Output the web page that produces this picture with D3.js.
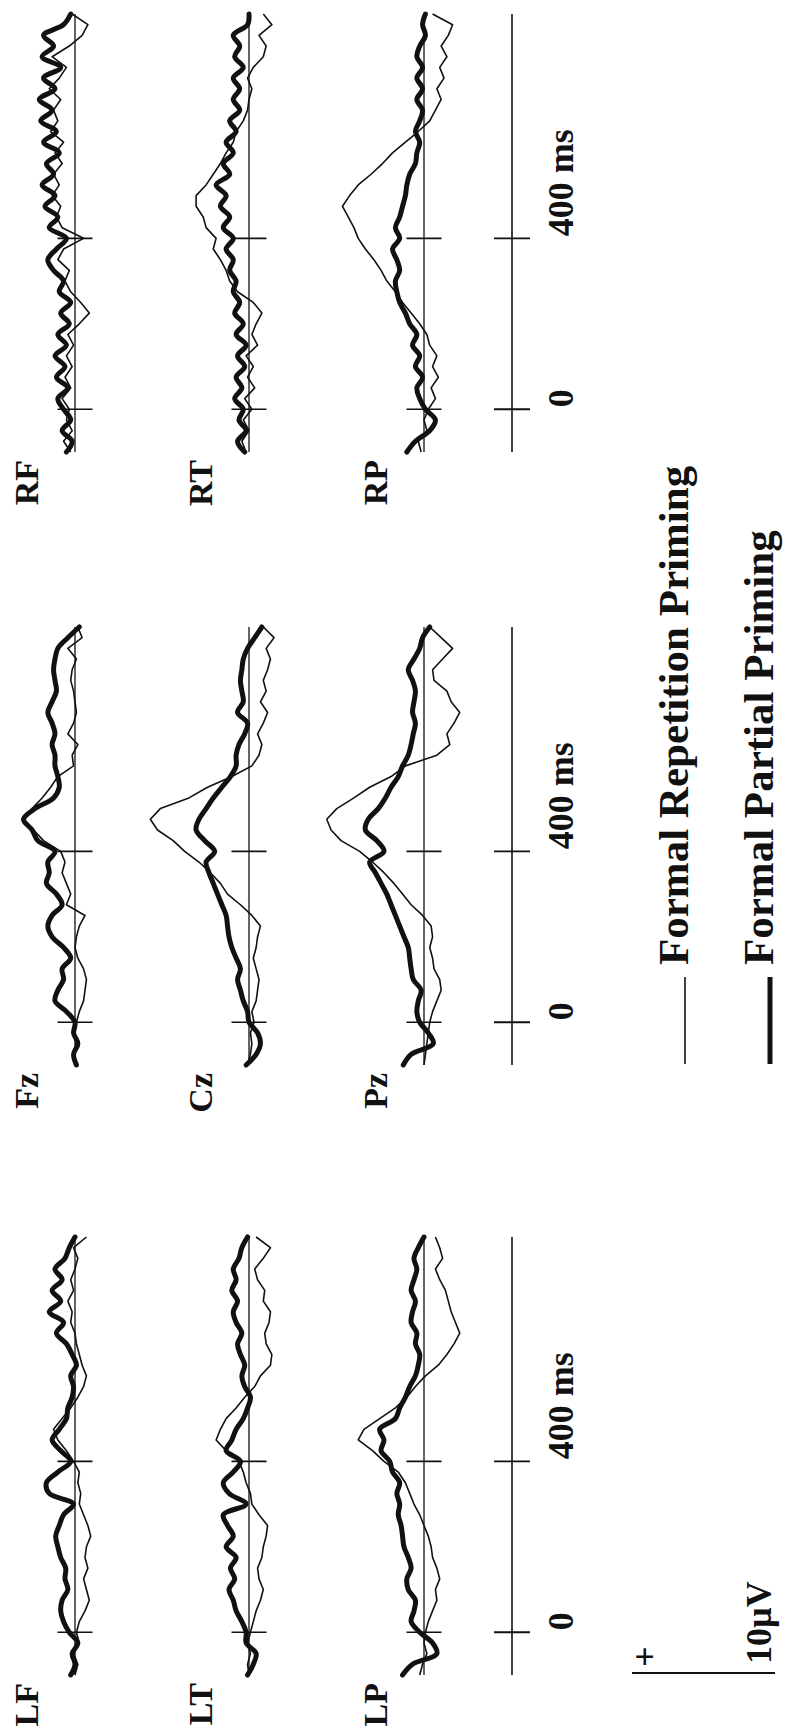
<!DOCTYPE html>
<html>
<head>
<meta charset="utf-8">
<script src="https://cdn.jsdelivr.net/npm/d3@7/dist/d3.min.js"></script>
<style>
  body { margin: 0; background: #fff; }
  text { font-family: "Liberation Serif", "Times New Roman", serif; font-weight: bold; fill: #111; }
</style>
</head>
<body>
<script>
// sample times (ms), one value every 25 ms
var times = [-100, -75, -50, -25, 0, 25, 50, 75, 100, 125, 150, 175, 200, 225, 250, 275, 300, 325, 350, 375,
  400, 425, 450, 475, 500, 525, 550, 575, 600, 625, 650, 675, 700, 725, 750, 775, 800, 825, 850, 875, 900, 925];

// electrode layout: columns (left, midline, right) x rows (frontal, temporal/central, parietal)
var electrodes = [["LF", "LT", "LP"], ["Fz", "Cz", "Pz"], ["RF", "RT", "RP"]];

// amplitudes in microvolts, positive up
var lfRep  = [0.0,-0.2,0.1,-0.3,-0.1,-0.3,-0.7,-1.0,-0.8,-0.6,-0.9,-0.7,-0.8,-1.1,-0.9,-0.6,-0.3,-0.4,-0.2,-0.3,0.1,0.6,1.2,1.5,0.9,0.3,-0.2,-0.6,-0.8,-0.5,-0.3,-0.1,0.0,0.3,0.2,0.5,0.1,0.3,0.0,-0.2,0.1,-0.8];
var lfPart = [0.3,0.0,0.2,-0.2,0.4,0.8,1.0,0.9,0.5,0.7,0.65,1.0,1.2,1.35,1.1,0.8,0.1,1.8,2.0,1.2,0.3,1.0,1.6,1.1,0.6,0.5,0.2,0.1,0.3,-0.1,0.2,0.6,1.3,0.8,1.8,1.0,1.6,0.9,1.4,0.7,0.4,0.0];
var ltRep  = [0.0,0.1,-0.1,0.1,-0.1,-0.3,-0.5,-0.8,-1.0,-0.7,-0.6,-0.9,-1.0,-1.2,-1.3,-0.7,-0.2,-0.1,0.2,0.4,0.7,1.6,2.3,2.0,1.6,0.9,0.3,-0.4,-0.8,-1.5,-1.6,-1.2,-1.1,-1.4,-1.5,-1.0,-1.1,-0.6,-0.4,-1.0,-1.5,-0.5];
var ltPart = [0.1,-0.3,-0.5,0.2,0.2,0.5,0.9,1.1,1.4,1.0,1.3,0.9,1.6,1.1,1.5,1.8,0.2,1.4,1.8,1.1,0.6,1.6,1.2,0.9,0.4,0.1,-0.1,0.3,0.5,0.3,0.6,0.8,0.5,0.9,1.1,0.8,1.2,0.9,1.1,0.7,0.5,0.1];
var lpRep  = [0.3,0.1,-0.2,0.0,-0.1,-0.3,-0.6,-0.9,-0.8,-1.1,-0.9,-0.6,-0.5,-0.3,0.0,0.3,0.7,1.0,1.3,1.8,2.8,3.6,4.6,4.2,3.1,2.0,1.2,0.6,-0.1,-1.0,-1.6,-2.1,-2.5,-2.2,-1.9,-1.7,-1.5,-1.1,-0.8,-1.3,-1.1,-0.8];
var lpPart = [1.5,0.8,-0.9,-0.6,0.3,0.9,0.7,0.6,1.1,1.2,0.9,1.1,1.4,1.5,1.6,1.8,1.7,1.9,1.7,2.2,2.4,3.0,2.8,3.1,2.0,1.7,1.3,1.0,0.6,0.4,0.3,0.6,0.5,0.9,0.8,0.6,0.9,0.7,0.5,0.7,0.4,0.0];

var fzRep  = [0.0,0.1,-0.1,0.0,-0.1,-0.3,-0.6,-0.7,-0.8,-0.6,-0.2,0.0,-0.1,-0.3,-0.7,0.6,0.3,0.6,0.9,0.7,1.0,2.2,2.9,3.7,3.0,2.3,1.7,1.2,0.1,0.2,-0.2,0.5,0.1,-0.1,0.0,0.1,0.3,0.2,-0.1,0.5,-0.5,-0.2];
var fzPart = [-0.1,0.1,-0.2,0.1,0.0,0.6,1.4,1.2,0.8,0.9,0.3,0.8,1.6,1.9,1.6,0.9,1.3,2.0,1.8,1.9,1.4,2.6,3.0,3.6,2.8,1.5,1.1,1.2,1.4,1.4,1.6,1.4,1.6,1.9,1.6,1.3,1.4,1.5,1.4,1.2,0.5,-0.3];
var czRep  = [0.1,-0.1,-0.2,-0.1,-0.35,-0.2,-0.5,-0.6,-0.7,-0.5,-0.3,-0.5,-0.6,-0.8,-0.2,0.6,1.5,2.0,2.7,3.5,4.5,5.3,6.4,6.9,6.2,4.2,2.9,1.2,-0.2,-0.7,-0.9,-0.6,-1.0,-1.3,-0.8,-1.2,-1.0,-1.3,-1.5,-1.2,-1.75,-1.0];
var czPart = [0.2,-0.5,-0.8,-0.6,0.0,0.1,0.4,0.6,0.8,0.6,0.9,1.2,1.4,1.5,1.6,1.9,2.2,2.5,2.8,3.0,2.4,3.1,3.7,3.5,3.0,2.5,1.9,1.3,0.9,0.9,0.7,0.3,0.1,0.8,0.4,0.5,0.6,0.5,0.4,0.1,-0.4,-0.9];
var pzRep  = [0.0,-0.1,-0.2,-0.3,-0.4,-0.6,-0.9,-1.2,-1.1,-0.7,-0.6,-0.4,-0.6,-0.5,0.1,0.9,1.5,2.1,2.8,3.6,4.5,5.8,6.5,6.8,6.1,4.9,3.8,2.3,1.3,-0.9,-1.8,-1.6,-2.1,-2.5,-1.9,-1.6,-0.7,-0.6,-1.3,-2.0,-1.2,-0.4];
var pzPart = [1.45,0.9,-0.65,-0.3,0.3,0.5,0.4,0.2,0.75,0.9,1.0,1.1,1.4,1.7,2.0,2.3,2.6,3.0,3.4,3.8,2.8,3.3,4.1,3.9,3.2,2.7,2.3,1.8,1.5,1.1,0.9,0.75,0.6,0.8,0.7,0.6,0.8,1.1,0.7,0.3,0.1,-0.4];

var rfRep  = [0.3,0.8,0.2,0.6,0.4,0.9,0.3,0.7,0.2,0.6,0.1,0.5,-0.3,-1.0,-0.4,0.3,0.7,0.4,1.2,0.8,-0.6,0.9,1.3,1.0,1.6,1.1,1.5,0.9,1.4,0.8,1.7,1.2,1.5,1.0,1.8,1.1,0.6,1.6,0.4,-0.5,-0.9,0.2];
var rfPart = [0.6,0.2,0.9,0.3,0.8,1.2,0.5,1.3,0.7,1.4,0.6,1.2,0.4,1.0,0.3,1.1,0.8,1.5,1.9,1.3,0.6,1.8,1.2,2.1,1.4,2.3,1.5,2.0,1.1,2.2,1.3,2.4,1.6,2.5,1.4,2.2,1.0,2.3,1.5,2.2,0.8,0.3];
var rtRep  = [0.2,0.5,0.0,0.4,-0.2,0.3,-0.4,0.1,-0.3,0.2,-0.6,-0.2,-0.5,-0.9,-0.3,0.8,1.35,1.6,2.0,2.5,2.3,3.0,3.2,3.7,3.7,3.0,2.5,2.0,1.6,1.1,0.9,0.4,0.1,0.0,-0.2,0.1,-0.3,-1.0,-1.2,-0.7,-1.6,-1.0];
var rtPart = [0.3,0.8,0.2,0.7,0.4,1.0,0.5,0.9,0.3,0.8,0.2,0.9,0.4,1.0,0.65,1.1,0.9,1.35,1.1,1.6,1.1,1.8,1.35,2.0,1.6,2.3,1.35,1.8,1.1,1.6,0.9,1.35,0.65,1.1,0.65,1.1,0.4,1.0,0.65,1.1,0.1,0.0];
var rpRep  = [0.2,0.4,-0.2,0.0,-0.3,-0.8,-0.5,-1.0,-0.6,-0.9,-0.4,-0.2,0.3,0.9,1.5,2.0,2.6,3.0,3.5,4.1,4.6,4.9,5.3,5.7,5.2,4.6,3.7,2.9,2.2,1.3,0.4,-0.4,-0.8,-1.2,-0.9,-1.4,-1.1,-1.6,-1.2,-1.7,-2.0,-0.6];
var rpPart = [1.2,0.6,-0.4,-0.8,-0.1,0.3,0.5,0.1,0.6,0.3,0.8,0.5,1.0,1.3,1.7,1.9,2.0,1.7,1.9,2.2,1.7,2.0,1.7,1.5,1.3,1.2,1.0,0.6,0.5,0.3,0.6,0.3,0.1,0.5,0.1,0.5,0.1,0.5,0.3,-0.1,0.1,-0.1];

var tickTimes = [0, 400];
var tickLabels = ["0", "400 ms"];
var legendLabels = ["Formal Repetition Priming", "Formal Partial Priming"];
var scaleLabels = ["+", "10\u00B5V"];
var scaleMicroVolts = 10;

var repetition = { LF: lfRep, LT: ltRep, LP: lpRep, Fz: fzRep, Cz: czRep, Pz: pzRep, RF: rfRep, RT: rtRep, RP: rpRep };
var partial = { LF: lfPart, LT: ltPart, LP: lpPart, Fz: fzPart, Cz: czPart, Pz: pzPart, RF: rfPart, RT: rtPart, RP: rpPart };

// the figure is drawn landscape and then turned a quarter turn anticlockwise
var svgWidth = 785;
var svgHeight = 1730;

var colStart = [55, 665, 1278];
var rowBase = [75, 249, 424];
var axisY = 512;

var x = d3.scaleLinear().domain([-100, 925]).range([0, 438]);
var y = d3.scaleLinear().domain([-10, 10]).range([143, -143]);

var svg = d3.select("body")
  .append("svg")
  .attr("width", svgWidth)
  .attr("height", svgHeight);

var fig = svg.append("g")
  .attr("transform", `translate(0, ${svgHeight}) rotate(-90)`);

var thinLine = d3.line()
  .x(function(d, i) { return x(times[i]); })
  .y(function(d) { return y(d); });

var thickLine = d3.line()
  .x(function(d, i) { return x(times[i]); })
  .y(function(d) { return y(d); })
  .curve(d3.curveCatmullRom.alpha(0.5));

electrodes.forEach(function(column, c) {
  var colGroup = fig.append("g")
    .attr("transform", `translate(${colStart[c]}, 0)`);

  column.forEach(function(name, r) {
    var ch = colGroup.append("g")
      .attr("transform", `translate(0, ${rowBase[r]})`);

    ch.append("line")
      .attr("x1", x(-100)).attr("x2", x(925))
      .attr("y1", 0).attr("y2", 0)
      .attr("stroke", "#111").attr("stroke-width", 1.3);

    ch.selectAll(".tick")
      .data(tickTimes)
      .enter().append("line")
      .attr("x1", function(d) { return x(d); })
      .attr("x2", function(d) { return x(d); })
      .attr("y1", -17.5).attr("y2", 17.5)
      .attr("stroke", "#111").attr("stroke-width", 1.6);

    ch.append("path")
      .datum(repetition[name])
      .attr("d", thinLine)
      .attr("fill", "none")
      .attr("stroke", "#111")
      .attr("stroke-width", 1.6)
      .attr("stroke-linejoin", "round");

    ch.append("path")
      .datum(partial[name])
      .attr("d", thickLine)
      .attr("fill", "none")
      .attr("stroke", "#111")
      .attr("stroke-width", 5)
      .attr("stroke-linejoin", "round")
      .attr("stroke-linecap", "round");

    ch.append("text")
      .attr("x", x(-100) - 8)
      .attr("y", -37)
      .attr("text-anchor", "end")
      .attr("font-size", 34)
      .text(name);
  });

  // time axis under each column
  var axis = colGroup.append("g")
    .attr("transform", `translate(0, ${axisY})`);

  axis.append("line")
    .attr("x1", x(-100)).attr("x2", x(925))
    .attr("y1", 0).attr("y2", 0)
    .attr("stroke", "#111").attr("stroke-width", 1.6);

  axis.selectAll(".tick")
    .data(tickTimes)
    .enter().append("line")
    .attr("x1", function(d) { return x(d); })
    .attr("x2", function(d) { return x(d); })
    .attr("y1", -18).attr("y2", 18)
    .attr("stroke", "#111").attr("stroke-width", 1.8);

  axis.selectAll(".lbl")
    .data(tickTimes)
    .enter().append("text")
    .attr("x", function(d) { return x(d) + 2; })
    .attr("y", 61)
    .attr("font-size", 36)
    .text(function(d, i) { return tickLabels[i]; });
});

// amplitude scale bar
var bar = fig.append("g")
  .attr("transform", `translate(${colStart[0] + 2}, 775)`);

bar.append("line")
  .attr("x1", 0).attr("x2", 0)
  .attr("y1", y(scaleMicroVolts) - y(0)).attr("y2", 0)
  .attr("stroke", "#111").attr("stroke-width", 1.8);

bar.append("text")
  .attr("x", 6)
  .attr("y", y(scaleMicroVolts) - y(0) + 25)
  .attr("font-size", 36)
  .text(scaleLabels[0]);

bar.append("text")
  .attr("x", 9)
  .attr("y", -4)
  .attr("font-size", 36)
  .text(scaleLabels[1]);

// legend
var legendY = [685, 770];
var legendWidth = [1.6, 5];
var legend = fig.append("g")
  .attr("transform", `translate(${colStart[1] + 1}, 0)`);

legendLabels.forEach(function(label, i) {
  legend.append("line")
    .attr("x1", 0).attr("x2", 87)
    .attr("y1", legendY[i]).attr("y2", legendY[i])
    .attr("stroke", "#111").attr("stroke-width", legendWidth[i]);

  legend.append("text")
    .attr("x", 99)
    .attr("y", legendY[i] + 3)
    .attr("font-size", 43)
    .text(label);
});
</script>
</body>
</html>
